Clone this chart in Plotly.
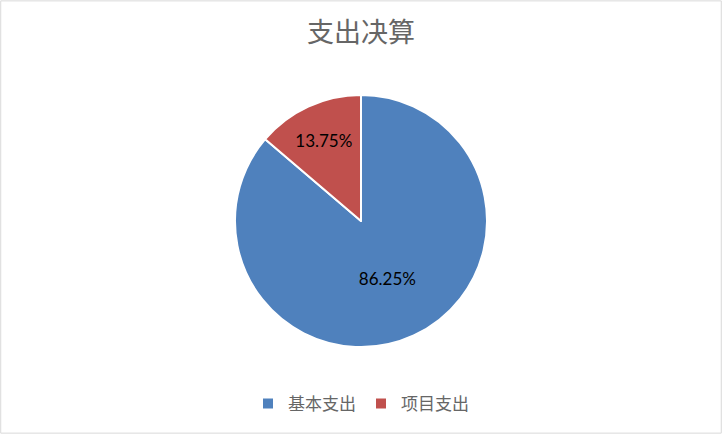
import plotly.graph_objects as go

labels = ["基本支出", "项目支出"]
shares = [86.25, 13.75]
colors = ["#4F81BD", "#C0504D"]

W, H = 722, 434
cx, cy, r = 361, 221, 126

fig = go.Figure()
fig.add_trace(go.Pie(
    labels=labels, values=shares, sort=False, direction="clockwise", rotation=0,
    marker=dict(colors=colors, line=dict(color="white", width=2)),
    texttemplate="%{value:.2f}%", textposition="inside", insidetextorientation="horizontal",
    textfont=dict(family="Lato, Open Sans, sans-serif", size=17, color="black"),
    domain=dict(x=[(cx - r) / W, (cx + r) / W], y=[(H - cy - r) / H, (H - cy + r) / H]),
    hoverinfo="label+percent",
))

fig.update_layout(
    width=W, height=H,
    margin=dict(l=0, r=0, t=0, b=0),
    paper_bgcolor="white", plot_bgcolor="white",
    title=dict(text="支出决算", x=0.5, xanchor="center", y=1 - 33 / H, yanchor="middle",
               font=dict(family="Noto Sans CJK SC", size=27, color="#666666")),
    legend=dict(orientation="h", x=0.5, xanchor="center", y=(H - 404) / H, yanchor="middle",
                font=dict(family="Noto Sans CJK SC", size=17, color="#666666"),
                itemwidth=30, traceorder="normal"),
    shapes=[dict(type="rect", xref="paper", yref="paper", x0=0.001, y0=0.002, x1=0.999, y1=0.998,
                 line=dict(color="#D9D9D9", width=1))],
)

# drop the default 8px body margin so the figure sits at the page corner
fig.write_html("out.html", config={"displayModeBar": False},
               post_script="document.body.style.margin='0';")
